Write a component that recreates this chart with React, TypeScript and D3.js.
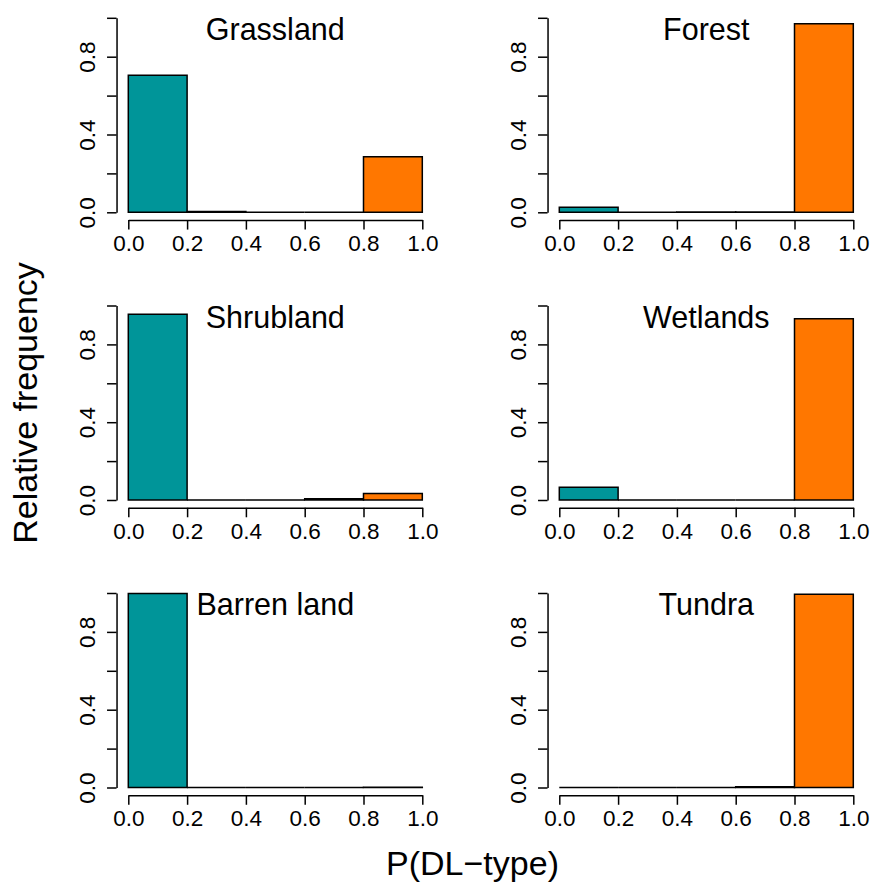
import React, { useEffect, useRef } from "react";
import * as d3 from "d3";

// histogram bins of P(DL-type)
const binEdges = [0, 0.2, 0.4, 0.6, 0.8, 1.0];
const yTicks = [0, 0.2, 0.4, 0.6, 0.8, 1.0];
const yLabelled = [0, 0.4, 0.8];

const landCovers = ["Grassland", "Forest", "Shrubland", "Wetlands", "Barren land", "Tundra"];

// relative frequency per bin
const grassland = [0.704, 0.004, 0, 0, 0.285];
const forest = [0.026, 0, 0.002, 0.002, 0.97];
const shrubland = [0.955, 0, 0, 0.007, 0.034];
const wetlands = [0.065, 0, 0, 0, 0.932];
const barrenLand = [0.997, 0, 0, 0, 0.001];
const tundra = [0, 0, 0, 0.004, 0.993];

const freqs = [grassland, forest, shrubland, wetlands, barrenLand, tundra];

const binColors = ["#009599", "white", "white", "white", "#FF7700"];
const font = "'Liberation Sans', Arial, Helvetica, sans-serif";

export default function App() {
  const ref = useRef<SVGSVGElement>(null);

  useEffect(() => {
    const svg = d3.select(ref.current);
    svg.selectAll("*").remove();

    const plotW = 294;
    const plotH = 194.5;
    const colX = [128.3, 559.3];
    const rowY = [212.3, 500, 787.5]; // y position of 0

    landCovers.forEach((name, i) => {
      const left = colX[i % 2];
      const base = rowY[Math.floor(i / 2)];
      const x = d3.scaleLinear().domain([0, 1]).range([left, left + plotW]);
      const y = d3.scaleLinear().domain([0, 1]).range([base, base - plotH]);
      const g = svg.append("g");

      const bins = d3.range(binEdges.length - 1).map((k) => ({
        x0: binEdges[k],
        x1: binEdges[k + 1],
        v: freqs[i][k],
        c: binColors[k],
      }));

      // paths so that empty bins still show their outline, like R's hist()
      g.selectAll("path.bar")
        .data(bins)
        .enter()
        .append("path")
        .attr("class", "bar")
        .attr("d", (d) => {
          const p = d3.path();
          p.moveTo(x(d.x0), y(0));
          p.lineTo(x(d.x1), y(0));
          p.lineTo(x(d.x1), y(d.v));
          p.lineTo(x(d.x0), y(d.v));
          p.closePath();
          return p.toString();
        })
        .attr("fill", (d) => d.c)
        .attr("stroke", "black")
        .attr("stroke-width", 1.5);

      // x axis (R style, offset below the plot)
      const xa = g.append("g")
        .attr("transform", `translate(0,${base + plotH * 0.04})`)
        .call(
          d3.axisBottom(x)
            .tickValues(binEdges)
            .tickSize(9.5)
            .tickSizeOuter(0)
            .tickPadding(5.5)
            .tickFormat(d3.format(".1f"))
        );
      xa.selectAll("path, line").attr("stroke", "black").attr("stroke-width", 1.5);
      xa.selectAll("text").attr("fill", "black").style("font-size", "22.5px").style("font-family", font);

      // y axis
      const ya = g.append("g")
        .attr("transform", `translate(${left - plotW * 0.04},0)`)
        .call(
          d3.axisLeft(y)
            .tickValues(yTicks)
            .tickSize(9.5)
            .tickSizeOuter(0)
            .tickFormat((d) => (yLabelled.includes(+d) ? d3.format(".1f")(+d) : ""))
        );
      ya.selectAll("path, line").attr("stroke", "black").attr("stroke-width", 1.5);
      ya.selectAll("text")
        .attr("fill", "black")
        .attr("x", 0)
        .attr("y", -21.7)
        .attr("dy", 0)
        .attr("transform", "rotate(-90)")
        .attr("text-anchor", "middle")
        .style("font-size", "22.5px")
        .style("font-family", font);

      g.append("text")
        .attr("x", left + plotW / 2)
        .attr("y", base - plotH + 22)
        .attr("text-anchor", "middle")
        .style("font-size", "30.5px")
        .style("font-family", font)
        .text(name);
    });

    svg.append("text")
      .attr("x", 472.5)
      .attr("y", 875)
      .attr("text-anchor", "middle")
      .style("font-size", "34px")
      .style("font-family", font)
      .text("P(DL\u2212type)");

    svg.append("text")
      .attr("transform", "translate(37,403) rotate(-90)")
      .attr("text-anchor", "middle")
      .style("font-size", "34px")
      .style("font-family", font)
      .text("Relative frequency");
  }, []);

  return (
    <svg
      ref={ref}
      width={872}
      height={885}
      style={{ position: "absolute", left: 0, top: 0, background: "white" }}
    />
  );
}
